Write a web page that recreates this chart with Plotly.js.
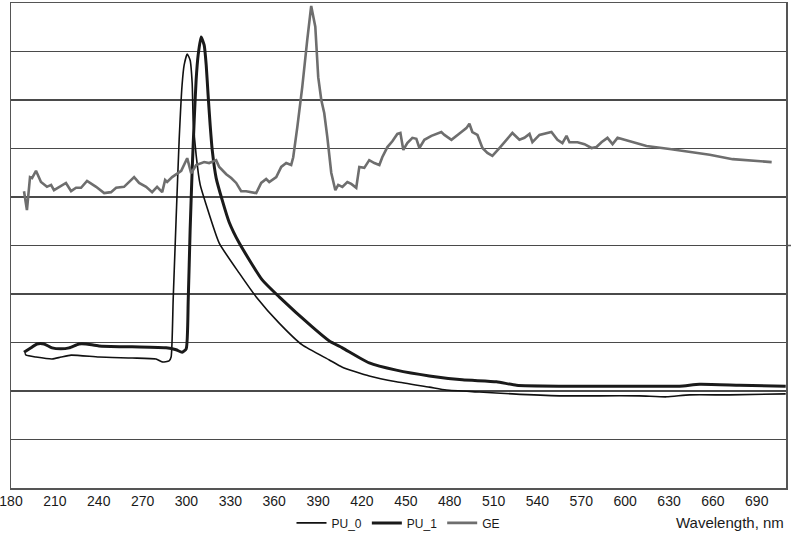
<!DOCTYPE html>
<html>
<head>
<meta charset="utf-8">
<script src="https://cdn.plot.ly/plotly-3.0.1.min.js"></script>
<style>html,body{margin:0;padding:0;background:#fff;}#chart{width:791px;height:540px;}</style>
</head>
<body>
<div id="chart"></div>
<script>
// Wavelength (nm) and relative intensity (grid units 0..10)
const pu0X = [189.6,190.3,197.1,208.1,214.2,221.1,240.2,262.8,279.2,283.4,288.1,289.5,290.9,292.9,295.0,297.0,298.4,300.5,302.5,303.9,304.6,306.6,309.4,313.5,322.4,336.1,347.7,363.4,379.2,397.7,406.6,425.0,443.5,466.1,477.7,500.3,522.9,555.1,582.5,609.8,628.3,644.1,671.4,709.8];
const pu0Y = [2.78,2.74,2.70,2.66,2.70,2.74,2.70,2.68,2.66,2.60,2.62,2.70,3.88,5.53,7.18,8.31,8.72,8.95,8.82,8.35,7.59,6.87,6.25,5.84,5.05,4.43,3.94,3.40,2.95,2.64,2.49,2.31,2.19,2.08,2.02,1.98,1.94,1.90,1.90,1.90,1.88,1.92,1.92,1.94];

const pu1X = [188.9,193.7,197.8,202.6,208.1,214.2,219.7,226.5,231.3,240.2,262.8,286.1,292.9,297.0,299.8,301.2,302.5,303.9,305.3,306.6,308.0,310.0,312.1,313.5,314.8,316.2,317.6,320.3,324.4,329.2,336.1,351.8,363.4,386.0,397.7,406.6,425.0,443.5,466.1,488.7,512.0,525.7,555.1,596.2,637.2,650.9,678.3,709.8];
const pu1Y = [2.80,2.89,2.97,2.97,2.89,2.87,2.89,2.97,2.97,2.93,2.91,2.89,2.85,2.80,2.87,3.88,5.32,6.56,7.59,8.41,8.93,9.30,9.13,8.72,8.10,7.48,6.97,6.39,5.94,5.48,5.05,4.29,3.94,3.32,3.03,2.89,2.58,2.43,2.31,2.23,2.19,2.12,2.10,2.10,2.10,2.14,2.12,2.10];

const geX = [188.9,190.9,193.0,194.4,197.1,200.5,204.6,207.4,209.4,212.9,217.6,221.1,224.5,227.9,232.0,238.2,243.7,248.4,251.9,257.3,260.8,264.2,267.6,272.4,276.5,279.9,283.4,285.4,286.8,290.2,296.4,300.5,303.2,306.6,312.1,315.5,320.3,322.4,327.2,330.6,334.0,337.4,340.8,347.7,351.1,354.5,356.6,361.4,364.8,368.2,371.6,373.0,375.8,379.2,382.6,385.3,388.1,390.1,392.2,394.2,396.3,399.0,401.8,403.8,406.6,410.0,412.7,416.1,418.2,421.6,425.0,428.5,431.9,433.9,437.4,440.8,444.2,446.3,448.3,451.0,454.5,457.2,459.3,462.7,467.5,474.3,476.4,481.2,488.0,491.4,493.5,495.5,499.0,502.4,505.8,509.2,514.0,518.8,522.9,527.7,531.1,534.6,536.6,541.4,546.2,549.6,553.7,557.1,559.9,561.9,567.4,572.2,577.0,580.4,583.8,587.9,591.4,594.8,599.6,614.6,630.4,644.1,657.8,673.5,685.1,700.2];
const geY = [6.12,5.73,6.41,6.39,6.54,6.31,6.21,6.25,6.14,6.21,6.29,6.12,6.19,6.19,6.33,6.21,6.08,6.10,6.19,6.21,6.31,6.41,6.29,6.21,6.10,6.21,6.10,6.35,6.31,6.41,6.54,6.80,6.49,6.66,6.72,6.70,6.76,6.62,6.47,6.39,6.29,6.12,6.12,6.08,6.29,6.37,6.31,6.41,6.62,6.70,6.66,6.82,7.44,8.27,9.24,9.94,9.51,8.47,8.00,7.73,7.24,6.50,6.14,6.25,6.21,6.31,6.27,6.19,6.62,6.60,6.76,6.70,6.66,6.82,7.03,7.15,7.30,7.32,6.97,7.11,7.22,7.20,7.01,7.18,7.26,7.34,7.28,7.18,7.34,7.42,7.51,7.34,7.28,7.01,6.91,6.85,7.01,7.18,7.32,7.18,7.22,7.30,7.13,7.28,7.32,7.34,7.18,7.11,7.26,7.13,7.13,7.09,7.01,7.03,7.13,7.22,7.09,7.22,7.18,7.05,6.99,6.93,6.87,6.78,6.76,6.72];

const xTicks = [180,210,240,270,300,330,360,390,420,450,480,510,540,570,600,630,660,690];

const traces = [
  {x: pu0X, y: pu0Y, name: 'PU_0', mode: 'lines', line: {color: '#111111', width: 1.6, shape: 'spline', smoothing: 0.5}},
  {x: pu1X, y: pu1Y, name: 'PU_1', mode: 'lines', line: {color: '#1a1a1a', width: 3, shape: 'spline', smoothing: 0.5}},
  {x: geX, y: geY, name: 'GE', mode: 'lines', line: {color: '#6e6e6e', width: 2.6}}
];

const layout = {
  width: 791, height: 540,
  margin: {l: 11, r: 5, t: 3, b: 52},
  paper_bgcolor: '#ffffff', plot_bgcolor: '#ffffff',
  font: {family: 'Liberation Sans, Arial, sans-serif', color: '#1a1a1a'},
  showlegend: true,
  legend: {orientation: 'h', x: 0.5, xanchor: 'center', y: -0.072, yanchor: 'middle',
           font: {size: 12, color: '#1a1a1a'}, itemwidth: 30, bgcolor: 'rgba(0,0,0,0)'},
  xaxis: {range: [180, 710], tickvals: xTicks, ticktext: xTicks.map(String),
          ticklabeloverflow: 'allow',
          showgrid: false, zeroline: false, showline: true, mirror: true,
          linecolor: '#555555', linewidth: 1.5, ticks: '', tickfont: {size: 14, color: '#1a1a1a'}},
  yaxis: {range: [0, 10], dtick: 1, showgrid: true, gridcolor: '#4a4a4a', gridwidth: 1.5,
          zeroline: false, showline: true, mirror: true, linecolor: '#555555', linewidth: 1.5,
          showticklabels: false, ticks: ''},
  annotations: [{text: 'Wavelength, nm', xref: 'paper', yref: 'paper', x: 1, xanchor: 'right',
                 y: -0.072, yanchor: 'middle', showarrow: false, font: {size: 15, color: '#1a1a1a'}}],
  shapes: [{type: 'line', xref: 'paper', yref: 'y', x0: 1, x1: 1.008, y0: 5, y1: 5,
            line: {color: '#555555', width: 1.5}}]
};

Plotly.newPlot('chart', traces, layout, {displayModeBar: false, staticPlot: true});
</script>
</body>
</html>
